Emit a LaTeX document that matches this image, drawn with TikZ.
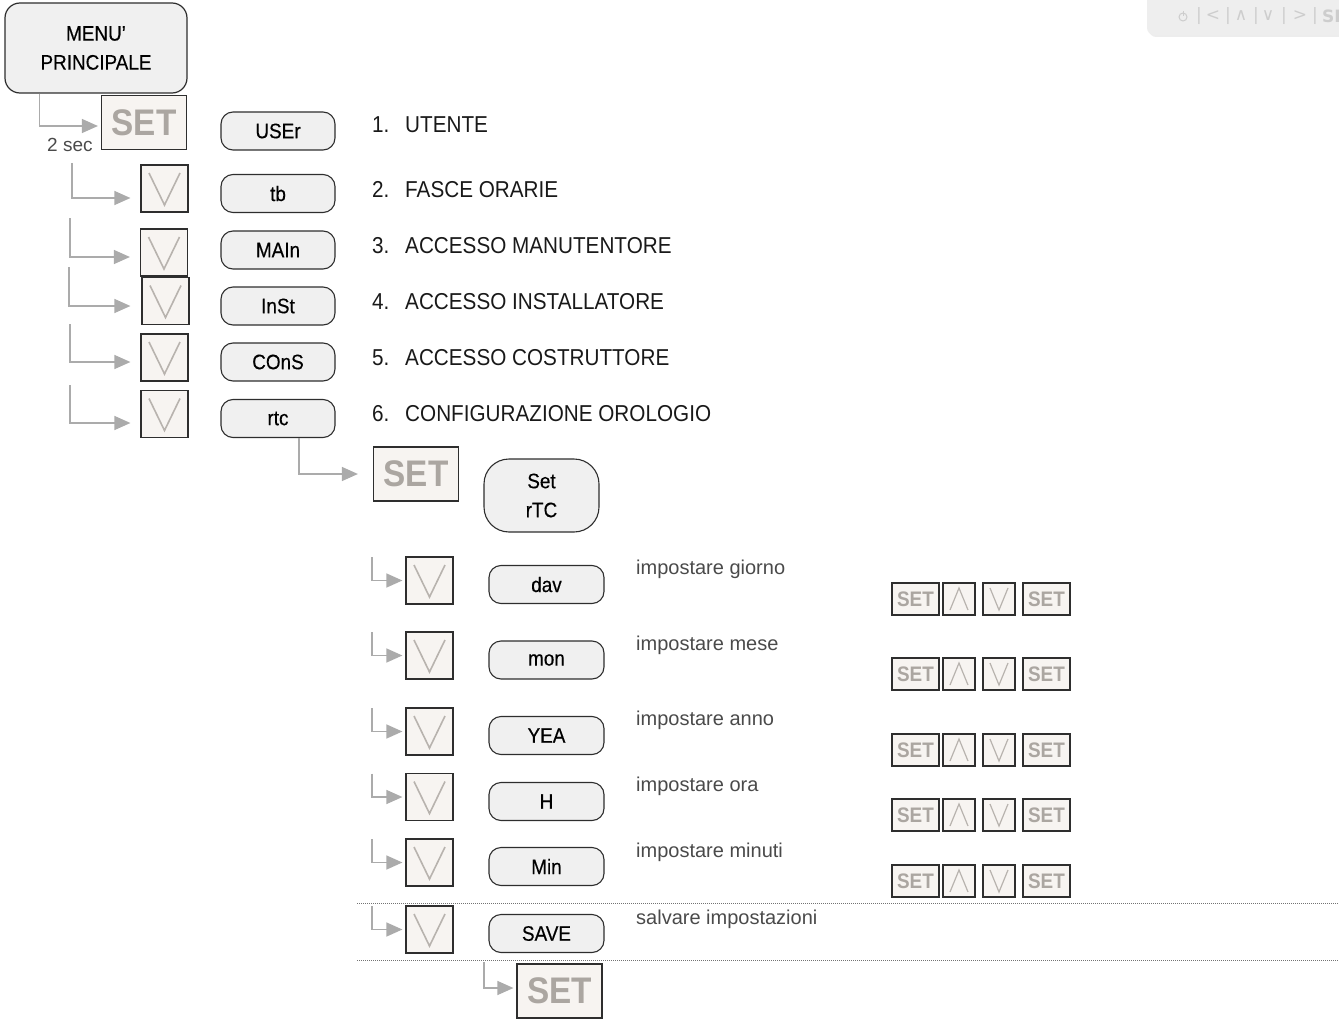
\documentclass[tikz,border=0pt]{standalone}
\usepackage{fontspec}
\setmainfont[FakeStretch=0.9]{Liberation Sans}
\newfontfamily\medfont[FakeStretch=0.9,FakeBold=0.35]{Liberation Sans}
\newfontfamily\lightfont{Liberation Sans}
\newfontfamily\symfont{DejaVu Sans}
\usetikzlibrary{arrows.meta}
\definecolor{keyfill}{HTML}{F7F4F1}
\definecolor{pillfill}{HTML}{F0F0F0}
\definecolor{conncol}{HTML}{ABABAB}
\definecolor{glyphcol}{HTML}{ABA6A1}
\definecolor{vcol}{HTML}{B8B3AE}
\definecolor{edgecol}{HTML}{2E2E2E}
\definecolor{notecol}{HTML}{4A4A4A}
\definecolor{widgetfill}{HTML}{EEEEEE}
\definecolor{widgettext}{HTML}{CDCDCD}
\tikzset{
  key/.style={draw=edgecol, fill=keyfill, line width=1.2pt, inner sep=0pt},
  glyphline/.style={draw=vcol, line width=1.6pt},
  vkey/.style={key, minimum width=47pt, minimum height=47pt,
    path picture={\draw[glyphline] ([xshift=8pt,yshift=-8pt]path picture bounding box.north west)
      -- ([yshift=7pt]path picture bounding box.south)
      -- ([xshift=-8pt,yshift=-8pt]path picture bounding box.north east);}},
  smalldown/.style={key, minimum width=32pt, minimum height=32pt,
    path picture={\draw[glyphline, line width=1.2pt] ([xshift=7pt,yshift=-5pt]path picture bounding box.north west)
      -- ([yshift=5pt]path picture bounding box.south)
      -- ([xshift=-7pt,yshift=-5pt]path picture bounding box.north east);}},
  smallup/.style={key, minimum width=32pt, minimum height=32pt,
    path picture={\draw[glyphline, line width=1.2pt] ([xshift=7pt,yshift=5pt]path picture bounding box.south west)
      -- ([yshift=-5pt]path picture bounding box.north)
      -- ([xshift=-7pt,yshift=5pt]path picture bounding box.south east);}},
  setkey/.style={key, minimum width=85pt, minimum height=54pt, text=glyphcol,
    font=\fontsize{37}{37}\selectfont\bfseries},
  smallset/.style={key, minimum width=47pt, minimum height=32pt, text=glyphcol,
    font=\fontsize{21}{21}\selectfont\bfseries},
  pill/.style={draw=edgecol, fill=pillfill, line width=1.1pt, rounded corners=12pt,
    minimum width=114pt, minimum height=38pt, inner sep=0pt, font=\medfont\fontsize{21}{25}\selectfont},
  conn/.style={draw=conncol, line width=1.3pt, -{Triangle[length=16pt,width=14pt]}},
  listtext/.style={anchor=base west, inner sep=0pt, font=\fontsize{23}{27}\selectfont, text=black!90},
  note/.style={anchor=base west, inner sep=0pt, font=\lightfont\fontsize{20}{24}\selectfont, text=notecol},
  dotline/.style={draw=black!55, line width=1pt, dash pattern=on 1.2pt off 0.8pt},
  wtext/.style={inner sep=0pt, text=widgettext, font=\symfont\fontsize{17}{17}\selectfont}
}
\begin{document}
\begin{tikzpicture}[x=1pt,y=-1pt]
\useasboundingbox (0,0) rectangle (1339,1022);

% top-right widget
\begin{scope}
\clip (0,0) rectangle (1339,1022);
\fill[black!7, rounded corners=7pt] (1149,-10) rectangle (1362,37);
\fill[widgetfill, rounded corners=7pt] (1147,-10) rectangle (1360,35);
\draw[widgettext, line width=1pt] (1183,17) circle (4pt);
\draw[widgettext, line width=1pt] (1183,11) -- (1183,16);
\node[wtext] (w1) at (1199,16) {|};
\node[wtext] (w2) at (1213,16) {<};
\node[wtext] (w3) at (1228,16) {|};
\node[wtext] (w4) at (1241,16) {∧};
\node[wtext] (w5) at (1256,16) {|};
\node[wtext] (w6) at (1268,16) {∨};
\node[wtext] (w7) at (1284,16) {|};
\node[wtext] (w8) at (1300,16) {>};
\node[wtext] (w9) at (1315,16) {|};
\node[wtext, anchor=west] (w10) at (1322,16) {\bfseries SE};
\end{scope}

% main menu box
\node[draw=edgecol, fill=pillfill, line width=1.2pt, rounded corners=15pt,
  minimum width=182pt, minimum height=90pt, inner sep=0pt, align=center,
  font=\medfont\fontsize{21}{29}\selectfont] (menu) at (96,48) {MENU’\\PRINCIPALE};

% first SET
\node[setkey] (set1) at (144,122.5) {SET};
\node[anchor=base west, inner sep=0pt, font=\lightfont\fontsize{19}{22}\selectfont, text=notecol] (sec) at (47,152) {2 sec};

% down keys
\node[vkey] (v2) at (164.5,188.5) {};
\node[vkey] (v3) at (164,252.5) {};
\node[vkey] (v4) at (165.5,301) {};
\node[vkey] (v5) at (164.5,357.5) {};
\node[vkey] (v6) at (164.5,414) {};

% pills
\node[pill] (user) at (278,131) {USEr};
\node[pill] (tb) at (278,193.5) {tb};
\node[pill] (main) at (278,250) {MAIn};
\node[pill] (inst) at (278,306) {InSt};
\node[pill] (cons) at (278,362) {COnS};
\node[pill] (rtc) at (278,418.5) {rtc};

% list
\node[listtext] (n1) at (372,133) {1.};
\node[listtext] (n2) at (372,197) {2.};
\node[listtext] (n3) at (372,253) {3.};
\node[listtext] (n4) at (372,309) {4.};
\node[listtext] (n5) at (372,365) {5.};
\node[listtext] (n6) at (372,421) {6.};
\node[listtext] (l1) at (405,133) {UTENTE};
\node[listtext] (l2) at (405,197) {FASCE ORARIE};
\node[listtext] (l3) at (405,253) {ACCESSO MANUTENTORE};
\node[listtext] (l4) at (405,309) {ACCESSO INSTALLATORE};
\node[listtext] (l5) at (405,365) {ACCESSO COSTRUTTORE};
\node[listtext] (l6) at (405,421) {CONFIGURAZIONE OROLOGIO};

% main connectors
\coordinate (s2) at (72,163);
\coordinate (s3) at (70,218);
\coordinate (s4) at (69,267);
\coordinate (s5) at (70,324);
\coordinate (s6) at (70,385);
\draw[conn, shorten >=3pt] ([xshift=35pt]menu.south west) |- ([yshift=-3.5pt]set1.west);
\draw[conn, shorten >=10pt] (s2) |- ([yshift=-9.5pt]v2.west);
\draw[conn, shorten >=10pt] (s3) |- ([yshift=-4.5pt]v3.west);
\draw[conn, shorten >=11pt] (s4) |- ([yshift=-5pt]v4.west);
\draw[conn, shorten >=10pt] (s5) |- ([yshift=-4.5pt]v5.west);
\draw[conn, shorten >=10pt] (s6) |- ([yshift=-9pt]v6.west);

% rtc submenu
\node[setkey] (set2) at (416,474) {SET};
\node[draw=edgecol, fill=pillfill, line width=1.1pt, rounded corners=25pt,
  minimum width=115pt, minimum height=73pt, inner sep=0pt, align=center,
  font=\medfont\fontsize{21}{29}\selectfont] (setrtc) at (541.5,495.5) {Set\\rTC};
\draw[conn, shorten >=15pt] ([xshift=21pt]rtc.south) |- (set2.west);

% sub rows
\foreach \nm/\cy/\py/\lab/\note/\nb in {
  dav/580.5/584.5/dav/impostare giorno/574,
  mon/655.5/660/mon/impostare mese/650,
  yea/731.5/735.5/YEA/impostare anno/725,
  h/797/801.5/H/impostare ora/791,
  min/862.5/866.5/Min/impostare minuti/857,
  save/929.5/933.5/SAVE/salvare impostazioni/924}{
  \node[vkey] (v\nm) at (429.5,\cy) {};
  \coordinate (c\nm) at (372,\cy-23.5);
  \draw[conn, shorten >=3pt] (c\nm) |- (v\nm.west);
  \node[pill, minimum width=115pt] (p\nm) at (546.5,\py) {\lab};
  \node[note] (t\nm) at (636,\nb) {\note};
}

% right key sequences
\foreach \nm/\cy in {a/599, b/674, c/750, d/815, e/881}{
  \node[smallset] (ka\nm) at (915.5,\cy) {SET};
  \node[smallup] (kb\nm) at (959,\cy) {};
  \node[smalldown] (kc\nm) at (999,\cy) {};
  \node[smallset] (kd\nm) at (1046.5,\cy) {SET};
}

% dotted separators
\draw[dotline] (357,903) -- (1339,903);
\draw[dotline] (357,960) -- (1339,960);

% final SET
\node[setkey] (set3) at (559.5,991) {SET};
\coordinate (s7) at (484,962);
\draw[conn, shorten >=3pt] (s7) |- ([yshift=3pt]set3.west);

\end{tikzpicture}
\end{document}
